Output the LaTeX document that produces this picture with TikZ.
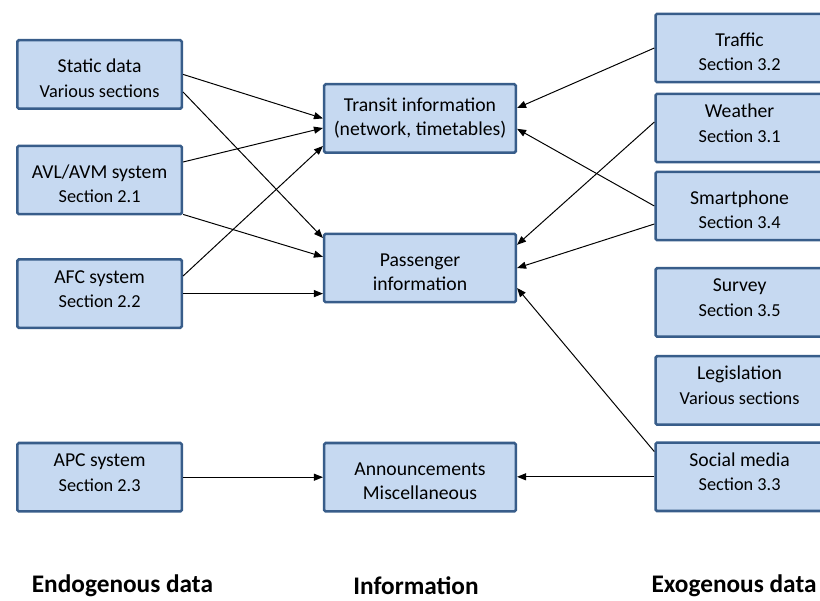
\documentclass[tikz,border=0pt]{standalone}
\usepackage{fontspec}
\setmainfont{Carlito}
\usepackage{tikz}
\usetikzlibrary{arrows.meta}

\definecolor{boxfill}{RGB}{198,217,241}
\definecolor{boxedge}{RGB}{56,93,138}

\newcommand{\secline}[1]{{\fontsize{13}{16}\selectfont #1}}
% two-line box text, raised or lowered a little as in the original slide
\newcommand{\hightext}[2]{\begin{tabular}{@{}c@{}}\rule{0pt}{19.9pt}#1\\#2\end{tabular}}
\newcommand{\midtext}[2]{\begin{tabular}{@{}c@{}}#1\\#2\end{tabular}}
\newcommand{\lowtext}[2]{\begin{tabular}{@{}c@{}}#1\\#2\rule[-9.7pt]{0pt}{9.7pt}\end{tabular}}

\begin{document}
\begin{tikzpicture}[
                    databox/.style={
                        draw=boxedge,
                        fill=boxfill,
                        line width=1.8pt,
                        rounded corners=1pt,
                        minimum width=4.11cm,
                        minimum height=1.71cm,
                        inner sep=1pt,
                        font=\fontsize{14}{17.5}\selectfont
                    },
                    infobox/.style={databox, minimum width=4.79cm},
                    extbox/.style={databox, minimum width=4.2cm},
                    heading/.style={font=\fontsize{18}{21}\selectfont\bfseries},
                    conn/.style={-{Triangle[length=6.4pt,width=5pt]}, line width=0.7pt}
                ]
                    \useasboundingbox (0,0) rectangle (20.5,-15);
                    \clip (0,0) rectangle (20.5,-15);

                    % Endogenous data
                    \node[databox] (static) at (2.49,-1.86) {\hightext{Static data}{\secline{Various sections}}};
                    \node[databox] (avl) [below of=static, node distance=2.64cm] {\hightext{AVL/AVM system}{\secline{Section 2.1}}};
                    \node[databox] (afc) [below of=avl, node distance=2.84cm] {\lowtext{AFC system}{\secline{Section 2.2}}};
                    \node[databox] (apc) [below of=afc, node distance=4.59cm] {\lowtext{APC system}{\secline{Section 2.3}}};

                    % Information
                    \node[infobox] (transit) at (10.5,-2.96) {\midtext{Transit information}{(network, timetables)}};
                    \node[infobox] (passenger) [below of=transit, node distance=3.74cm] {\hightext{Passenger}{information}};
                    \node[infobox] (announce) [below of=passenger, node distance=5.23cm] {\hightext{Announcements}{Miscellaneous}};

                    % Exogenous data
                    \node[extbox] (traffic) at (18.49,-1.2) {\hightext{Traffic}{\secline{Section 3.2}}};
                    \node[extbox] (weather) [below of=traffic, node distance=2.0cm] {\lowtext{Weather}{\secline{Section 3.1}}};
                    \node[extbox] (phone) [below of=weather, node distance=1.95cm] {\hightext{Smartphone}{\secline{Section 3.4}}};
                    \node[extbox] (survey) [below of=phone, node distance=2.41cm] {\lowtext{Survey}{\secline{Section 3.5}}};
                    \node[extbox] (legis) [below of=survey, node distance=2.2cm] {\lowtext{Legislation}{\secline{Various sections}}};
                    \node[extbox] (social) [below of=legis, node distance=2.16cm] {\lowtext{Social media}{\secline{Section 3.3}}};

                    \node[heading] (endo) at (3.06,-14.65) {Endogenous data};
                    \node[heading] (info) at (10.4,-14.65) {Information};
                    \node[heading] (exo) at (18.35,-14.65) {Exogenous data};

                    % Edges
                    \draw[conn] (static.east) -- (transit.west);
                    \draw[conn] ([yshift=-0.44cm]static.east) -- ([yshift=0.75cm]passenger.west);
                    \draw[conn] ([yshift=0.45cm]avl.east) -- ([yshift=-0.24cm]transit.west);
                    \draw[conn] ([yshift=-0.86cm]avl.east) -- ([yshift=0.28cm]passenger.west);
                    \draw[conn] ([yshift=0.44cm]afc.east) -- ([yshift=-0.69cm]transit.west);
                    \draw[conn] (afc.east) -- (afc.east -| passenger.west);
                    \draw[conn] (apc.east) -- (apc.east -| announce.west);
                    \draw[conn] (traffic.west) -- ([yshift=0.26cm]transit.east);
                    \draw[conn] (phone.west) -- ([yshift=-0.26cm]transit.east);
                    \draw[conn] ([yshift=0.15cm]weather.west) -- ([yshift=0.58cm]passenger.east);
                    \draw[conn] ([yshift=-0.45cm]phone.west) -- (passenger.east);
                    \draw[conn] ([yshift=0.63cm]social.west) -- ([yshift=-0.5cm]passenger.east);
                    \draw[conn] (social.west) -- (social.west -| announce.east);
                \end{tikzpicture}
\end{document}
